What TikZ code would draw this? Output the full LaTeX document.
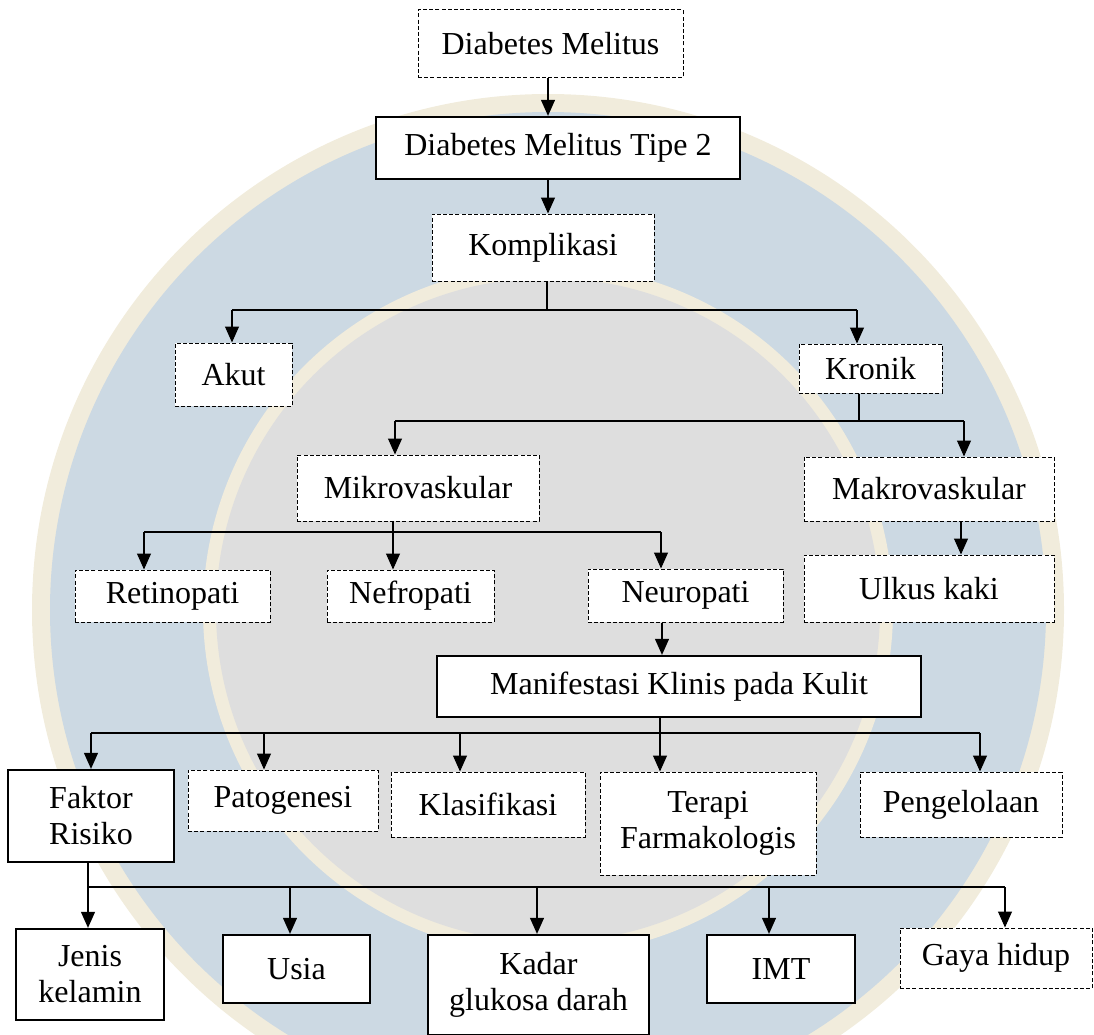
\documentclass[tikz,border=0pt]{standalone}
\usepackage{fontspec}
\setmainfont{Liberation Serif}
\usetikzlibrary{arrows.meta}
\definecolor{wmblue}{HTML}{CCD9E3}
\definecolor{wmcream}{HTML}{F1ECDC}
\definecolor{wmgrey}{HTML}{DEDEDE}
\tikzset{
  box/.style={fill=white, inner sep=0pt, align=center,
    font=\fontsize{32}{36}\selectfont},
  dbox/.style={box, draw, line width=1pt, dash pattern=on 4pt off 2.2pt},
  sbox/.style={box, draw, line width=2.3pt},
  wire/.style={line width=1.1pt},
  arr/.style={wire, -{Triangle[length=16pt,width=14pt]}}
}
\begin{document}
\begin{tikzpicture}[x=1pt,y=-1pt]
  \useasboundingbox (0,0) rectangle (1094,1035);
  % watermark
  \fill[wmcream] (548,610) circle[radius=516pt];
  \fill[wmblue] (548,610) circle[radius=498pt];
  \fill[wmcream] (548,610) circle[radius=345pt];
  \fill[wmgrey] (548,610) circle[radius=332pt];
  % boxes
  \node[dbox, minimum width=265, minimum height=68] (dm) at (550.5,44) {Diabetes Melitus};
  \node[sbox, minimum width=364, minimum height=62] (dmt) at (558,148) {Diabetes Melitus Tipe 2};
  \node[dbox, minimum width=222, minimum height=67] (komp) at (543,247.5) {Komplikasi};
  \node[dbox, minimum width=117, minimum height=63] (akut) at (233.5,374.5) {Akut};
  \node[dbox, minimum width=143, minimum height=49] (kronik) at (870.5,368.5) {Kronik};
  \node[dbox, minimum width=242, minimum height=66] (mikro) at (418,488) {Mikrovaskular};
  \node[dbox, minimum width=250, minimum height=64] (makro) at (929,489) {Makrovaskular};
  \node[dbox, minimum width=195, minimum height=52] (retino) at (172.5,596) {Retinopati};
  \node[dbox, minimum width=167, minimum height=52] (nefro) at (410.5,596) {Nefropati};
  \node[dbox, minimum width=195, minimum height=53] (neuro) at (685.5,595.5) {Neuropati};
  \node[dbox, minimum width=250, minimum height=67] (ulkus) at (929,588.5) {Ulkus kaki};
  \node[sbox, minimum width=484, minimum height=61] (manif) at (679,686.5) {Manifestasi Klinis pada Kulit};
  \node[sbox, minimum width=166, minimum height=92] (faktor) at (91,816) {Faktor\\Risiko};
  \node[dbox, minimum width=190, minimum height=61] (pato) at (283,800.5) {Patogenesi};
  \node[dbox, minimum width=194, minimum height=65] (klas) at (488,804.5) {Klasifikasi};
  \node[dbox, minimum width=216, minimum height=103] (terapi) at (708,823.5) {Terapi\\Farmakologis};
  \node[dbox, minimum width=202, minimum height=65] (pengel) at (961,804.5) {Pengelolaan};
  \node[sbox, minimum width=148, minimum height=91] (jenis) at (90,974.5) {Jenis\\kelamin};
  \node[sbox, minimum width=147, minimum height=68] (usia) at (296.5,969) {Usia};
  \node[sbox, minimum width=221, minimum height=100] (kadar) at (538.5,985) {Kadar\\glukosa darah};
  \node[sbox, minimum width=148, minimum height=68] (imt) at (781,969) {IMT};
  \node[dbox, minimum width=192, minimum height=60] (gaya) at (996,958) {Gaya hidup};
  % connectors
  \coordinate (c1) at (548,0);
  \draw[arr] (dm.south -| c1) -- (dmt.north -| c1);
  \draw[arr] (dmt.south -| c1) -- (komp.north -| c1);
  % komplikasi
  \coordinate (k0) at (547,310);
  \draw[wire] (komp.south -| k0) -- (k0);
  \draw[wire] (232,310) -- (857,310);
  \foreach \n/\x in {akut/232, kronik/857}{
    \coordinate (t) at (\x,310);
    \draw[arr] (t) -- (t |- \n.north);
  }
  % kronik
  \coordinate (r0) at (859,421);
  \draw[wire] (kronik.south -| r0) -- (r0);
  \draw[wire] (395,421) -- (964,421);
  \foreach \n/\x in {mikro/395, makro/964}{
    \coordinate (t) at (\x,421);
    \draw[arr] (t) -- (t |- \n.north);
  }
  % mikrovaskular
  \coordinate (m0) at (393,532);
  \draw[wire] (mikro.south -| m0) -- (m0);
  \draw[wire] (144,532) -- (661,532);
  \foreach \n/\x in {retino/144, nefro/393, neuro/661}{
    \coordinate (t) at (\x,532);
    \draw[arr] (t) -- (t |- \n.north);
  }
  \coordinate (u1) at (961,0);
  \draw[arr] (makro.south -| u1) -- (ulkus.north -| u1);
  \coordinate (n1) at (662,0);
  \draw[arr] (neuro.south -| n1) -- (manif.north -| n1);
  % manifestasi
  \coordinate (f0) at (660,733);
  \draw[wire] (manif.south -| f0) -- (f0);
  \draw[wire] (91,733) -- (980,733);
  \foreach \n/\x in {faktor/91, pato/264, klas/460, terapi/660, pengel/980}{
    \coordinate (t) at (\x,733);
    \draw[arr] (t) -- (t |- \n.north);
  }
  % faktor risiko
  \coordinate (g0) at (88,887);
  \draw[wire] (faktor.south -| g0) -- (g0);
  \draw[wire] (88,887) -- (1005,887);
  \foreach \n/\x in {jenis/88, usia/290, kadar/537, imt/769, gaya/1005}{
    \coordinate (t) at (\x,887);
    \draw[arr] (t) -- (t |- \n.north);
  }
\end{tikzpicture}
\end{document}
